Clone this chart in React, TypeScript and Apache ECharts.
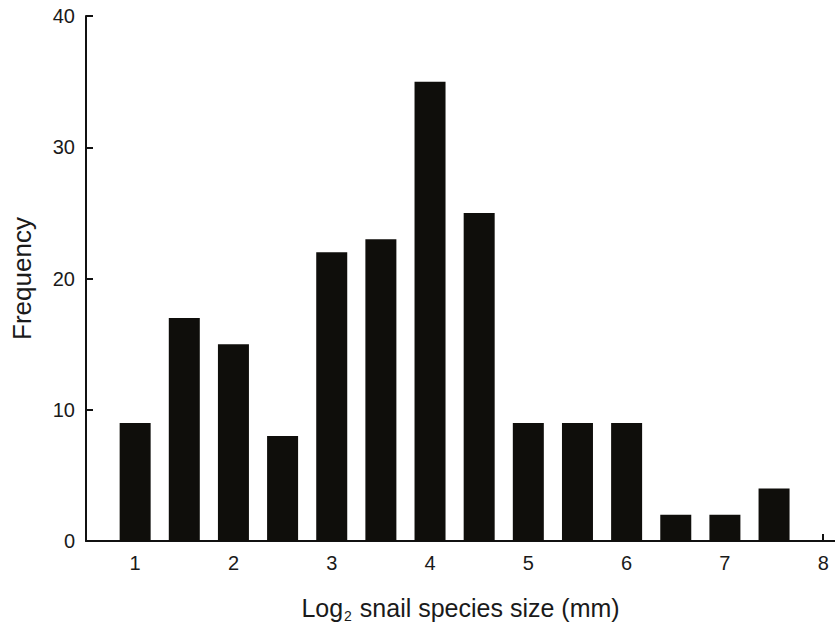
import React, { useEffect, useRef } from "react";
import * as echarts from "echarts";

const binCenters = [1, 1.5, 2, 2.5, 3, 3.5, 4, 4.5, 5, 5.5, 6, 6.5, 7, 7.5];
const frequencies = [9, 17, 15, 8, 22, 23, 35, 25, 9, 9, 9, 2, 2, 4];
const xTickValues = [1, 2, 3, 4, 5, 6, 7, 8];
const xAxisTitle = "{m|Log}{s|2}{m| snail species size (mm)}";
const yAxisTitle = "Frequency";

export default function App() {
  const ref = useRef<HTMLDivElement>(null);
  useEffect(() => {
    if (!ref.current) return;
    const chart = echarts.init(ref.current, null, { renderer: "svg" });
    const font = "'Liberation Sans', Arial, Helvetica, sans-serif";
    chart.setOption({
      animation: false,
      backgroundColor: "#ffffff",
      grid: {
        left: 86,
        right: 0,
        top: 16,
        bottom: 83,
        containLabel: false,
        outerBoundsMode: "none",
      },
      xAxis: {
        type: "value",
        min: 0.5,
        max: 8.12,
        name: xAxisTitle,
        nameLocation: "middle",
        nameGap: 52,
        nameTextStyle: {
          fontFamily: font,
          fontSize: 25,
          color: "#1a1a1a",
          rich: {
            m: { fontFamily: font, fontSize: 25, color: "#1a1a1a", lineHeight: 30 },
            s: {
              fontFamily: font,
              fontSize: 14,
              color: "#1a1a1a",
              verticalAlign: "bottom",
              padding: [0, 1, 0, 1],
            },
          },
        },
        axisLine: { lineStyle: { color: "#111", width: 2 } },
        axisTick: {
          inside: true,
          length: 7,
          lineStyle: { color: "#111", width: 2 },
          customValues: xTickValues,
        },
        axisLabel: {
          fontFamily: font,
          fontSize: 20,
          color: "#1a1a1a",
          margin: 12,
          customValues: xTickValues,
        },
        splitLine: { show: false },
      },
      yAxis: {
        type: "value",
        min: 0,
        max: 40,
        interval: 10,
        name: yAxisTitle,
        nameLocation: "middle",
        nameGap: 51,
        nameRotate: 90,
        nameTextStyle: { fontFamily: font, fontSize: 26, color: "#1a1a1a" },
        axisLine: { show: true, lineStyle: { color: "#111", width: 2 } },
        axisTick: {
          show: true,
          inside: true,
          length: 7,
          lineStyle: { color: "#111", width: 2 },
        },
        axisLabel: { fontFamily: font, fontSize: 20, color: "#1a1a1a", margin: 11 },
        splitLine: { show: false },
      },
      series: [
        {
          type: "bar",
          data: binCenters.map((c, i) => [c, frequencies[i]]),
          barWidth: 31,
          itemStyle: { color: "#0f0e0b" },
        },
      ],
    });
    return () => chart.dispose();
  }, []);
  return (
    <div
      ref={ref}
      style={{ position: "absolute", left: 0, top: 0, width: 835, height: 624 }}
    />
  );
}
